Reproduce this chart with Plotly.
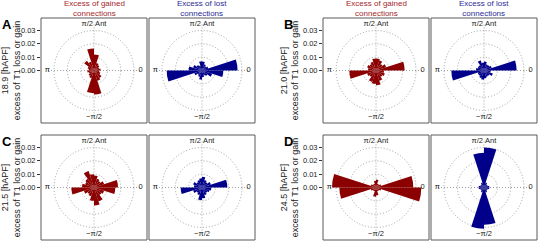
import plotly.graph_objects as go

# ---------------- data ----------------
theta_deg = [9, 27, 45, 63, 81, 99, 117, 135, 153, 171,
             189, 207, 225, 243, 261, 279, 297, 315, 333, 351]
bin_width = 18

row_labels = ["18.9 [hAPF]", "21.0 [hAPF]", "21.5 [hAPF]", "24.5 [hAPF]"]
panel_letters = ["A", "B", "C", "D"]
col_titles = ["Excess of gained<br>connections", "Excess of lost<br>connections"]
y_title_2 = "excess of T1 loss or gain"
y_tick_vals = [0.0, 0.01, 0.02, 0.03]
y_tick_text = ["0.00", "0.01", "0.02", "0.03"]
angle_tick_vals = [0, 90, 180, 270]
angle_tick_text = ["0", "π/2 Ant", "π", "−π/2"]

gained_A = [0.005, 0.004, 0.005, 0.006, 0.012, 0.0165, 0.007, 0.009, 0.005, 0.004,
            0.005, 0.004, 0.005, 0.006, 0.017, 0.018, 0.008, 0.007, 0.005, 0.004]
lost_A = [0.0267, 0.005, 0.004, 0.005, 0.0068, 0.007, 0.004, 0.005, 0.007, 0.010,
          0.0265, 0.006, 0.004, 0.005, 0.007, 0.005, 0.004, 0.005, 0.008, 0.016]
gained_B = [0.0215, 0.008, 0.006, 0.008, 0.009, 0.009, 0.007, 0.006, 0.007, 0.006,
            0.020, 0.007, 0.006, 0.009, 0.010, 0.011, 0.008, 0.006, 0.007, 0.006]
lost_B = [0.0245, 0.006, 0.005, 0.005, 0.0068, 0.006, 0.008, 0.005, 0.005, 0.006,
          0.0245, 0.005, 0.005, 0.006, 0.007, 0.006, 0.005, 0.005, 0.007, 0.005]
gained_C = [0.018, 0.008, 0.006, 0.007, 0.009, 0.010, 0.013, 0.008, 0.007, 0.009,
            0.017, 0.008, 0.006, 0.007, 0.010, 0.0135, 0.011, 0.007, 0.008, 0.016]
lost_C = [0.019, 0.007, 0.005, 0.006, 0.008, 0.007, 0.006, 0.005, 0.007, 0.006,
          0.016, 0.007, 0.005, 0.006, 0.0094, 0.008, 0.006, 0.005, 0.006, 0.007]
gained_D = [0.028, 0.004, 0.003, 0.003, 0.006, 0.005, 0.003, 0.003, 0.004, 0.033,
            0.0275, 0.004, 0.003, 0.003, 0.007, 0.006, 0.003, 0.003, 0.004, 0.034]
lost_D = [0.004, 0.003, 0.003, 0.004, 0.030, 0.026, 0.004, 0.003, 0.003, 0.004,
          0.004, 0.003, 0.003, 0.004, 0.031, 0.028, 0.004, 0.003, 0.003, 0.004]

gained = [gained_A, gained_B, gained_C, gained_D]
lost = [lost_A, lost_B, lost_C, lost_D]

# ---------------- layout geometry (pixels) ----------------
W, H = 538, 241
RED = "#8b0000"
BLUE = "#00008b"
RED_T = "#a3282b"
BLUE_T = "#2a2a94"
GRID = "#a0a0a0"
DASH = "1px,2px"
FONT = "Liberation Sans, Arial, sans-serif"

box_w, box_h = 106, 105
panel_x = [41, 323]          # left of red box for left/right panel group
panel_y = [18, 135]          # top of boxes for upper/lower row
gap = 2
RMAX = 0.035
px_per_unit = 13.33 / 0.01
R_px = RMAX * px_per_unit


def px(x):
    return x / W


def py(y):
    return 1 - y / H


fig = go.Figure()
shapes = []
annotations = []
layout_extra = {}

pidx = 0
for p in range(4):
    row, grp = p // 2, p % 2
    x0 = panel_x[grp]
    y0 = panel_y[row]
    for c in range(2):
        pidx += 1
        bx = x0 + c * (box_w + gap)
        cx = bx + box_w / 2
        cy = y0 + box_h / 2
        name = "polar" if pidx == 1 else f"polar{pidx}"
        vals = gained[p] if c == 0 else lost[p]
        color = RED if c == 0 else BLUE
        fig.add_trace(go.Barpolar(r=vals, theta=theta_deg, width=bin_width,
                                  marker=dict(color=color, line=dict(width=0)),
                                  subplot=name, hoverinfo="skip", showlegend=False))
        fig.add_trace(go.Scatterpolar(r=[RMAX] * len(angle_tick_vals), theta=angle_tick_vals,
                                      mode="text", text=angle_tick_text,
                                      textfont=dict(size=7.5, color="#222", family=FONT),
                                      subplot=name, cliponaxis=False, hoverinfo="skip",
                                      showlegend=False))
        layout_extra[name] = dict(
            domain=dict(x=[px(cx - R_px), px(cx + R_px)], y=[py(cy + R_px), py(cy - R_px)]),
            bgcolor="white",
            radialaxis=dict(range=[0, RMAX], tickvals=[0.01, 0.02, 0.03, RMAX],
                            showticklabels=False, ticks="", showline=False,
                            gridcolor=GRID, griddash=DASH, gridwidth=1, layer="above traces"),
            angularaxis=dict(tickvals=angle_tick_vals, showticklabels=False, ticks="",
                             showline=False, gridcolor=GRID, griddash=DASH, gridwidth=1,
                             layer="above traces", rotation=0, direction="counterclockwise"),
        )
        shapes.append(dict(type="rect", xref="paper", yref="paper",
                           x0=px(bx), x1=px(bx + box_w), y0=py(y0 + box_h), y1=py(y0),
                           line=dict(color="#5a5a5a", width=1), fillcolor="rgba(0,0,0,0)"))
        if row == 0:
            annotations.append(dict(xref="paper", yref="paper", x=px(cx), y=py(20),
                                    xanchor="center", yanchor="bottom", showarrow=False,
                                    text=col_titles[c],
                                    font=dict(size=8, color=RED_T if c == 0 else BLUE_T,
                                              family=FONT)))
    # cartesian y-axis for the radial scale
    k = p + 1
    sfx = "" if k == 1 else str(k)
    half = (box_h / 2) / px_per_unit
    fig.add_trace(go.Scatter(x=[], y=[], xaxis=f"x{sfx}", yaxis=f"y{sfx}",
                             showlegend=False, hoverinfo="skip"))
    layout_extra[f"xaxis{sfx}"] = dict(domain=[px(x0), px(x0 + box_w)], anchor=f"y{sfx}",
                                       visible=False, range=[0, 1], fixedrange=True)
    layout_extra[f"yaxis{sfx}"] = dict(domain=[py(y0 + box_h), py(y0)], anchor=f"x{sfx}",
                                       range=[-half, half], tickvals=y_tick_vals,
                                       ticktext=y_tick_text, fixedrange=True,
                                       ticks="outside", ticklen=3, tickcolor="#333",
                                       showline=False, showgrid=False, zeroline=False,
                                       tickfont=dict(size=7.5, color="#222", family=FONT),
                                       title=dict(text=f"{row_labels[p]}<br>{y_title_2}",
                                                  font=dict(size=9, color="#222", family=FONT),
                                                  standoff=2))
    annotations.append(dict(xref="paper", yref="paper", x=px(x0 - 41), y=py(y0 - 3),
                            xanchor="left", yanchor="top", showarrow=False,
                            text=f"<b>{panel_letters[p]}</b>",
                            font=dict(size=13, color="black", family=FONT)))

fig.update_layout(width=W, height=H, margin=dict(l=0, r=0, t=0, b=0),
                  paper_bgcolor="white", plot_bgcolor="white",
                  font=dict(family=FONT), shapes=shapes, annotations=annotations,
                  showlegend=False, **layout_extra)

fig.write_html("out.html", config={"displayModeBar": False},
               post_script="document.body.style.margin='0px';")
